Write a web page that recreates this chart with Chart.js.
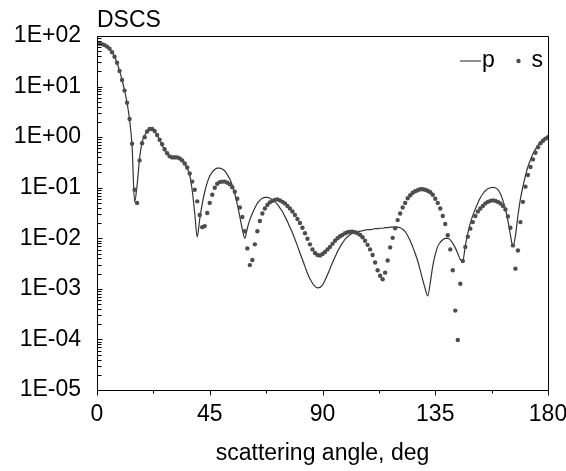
<!DOCTYPE html>
<html>
<head>
<meta charset="utf-8">
<script src="https://cdn.jsdelivr.net/npm/chart.js@4/dist/chart.umd.min.js"></script>
<style>
html,body{margin:0;padding:0;background:#fff;}
#wrap{width:566px;height:471px;}
canvas{display:block;}
</style>
</head>
<body>
<div id="wrap"><canvas id="c" width="566" height="471"></canvas></div>
<script>
// scattering angles (deg), 1-degree grid
const angles = [0,1,2,3,4,5,6,7,8,9,10,11,12,13,14,15,16,17,18,19,20,21,22,23,24,25,26,27,28,29,30,31,32,33,34,35,36,37,38,39,40,41,42,43,44,45,46,47,48,49,50,51,52,53,54,55,56,57,58,59,60,61,62,63,64,65,66,67,68,69,70,71,72,73,74,75,76,77,78,79,80,81,82,83,84,85,86,87,88,89,90,91,92,93,94,95,96,97,98,99,100,101,102,103,104,105,106,107,108,109,110,111,112,113,114,115,116,117,118,119,120,121,122,123,124,125,126,127,128,129,130,131,132,133,134,135,136,137,138,139,140,141,142,143,144,145,146,147,148,149,150,151,152,153,154,155,156,157,158,159,160,161,162,163,164,165,166,167,168,169,170,171,172,173,174,175,176,177,178,179,180];

// series p (solid line)
const pValues = [70.8,70.8,69.2,66.1,61.7,56.2,47.9,38.9,29.5,20.4,13.5,8.32,4.79,2.19,0.661,0.0525,0.112,0.380,0.794,1.07,
1.32,1.48,1.45,1.32,1.10,0.871,0.692,0.550,0.468,0.427,0.417,0.417,0.407,0.380,0.339,0.295,0.240,0.178,0.0891,0.0316,
0.0107,0.0240,0.0479,0.0832,0.126,0.170,0.204,0.229,0.245,0.245,0.234,0.214,0.182,0.148,0.112,0.0759,0.0468,0.0269,0.0151,0.0100,
0.0158,0.0234,0.0309,0.0398,0.0490,0.0562,0.0617,0.0646,0.0646,0.0617,0.0575,0.0525,0.0468,0.0398,0.0339,0.0269,0.0214,0.0166,0.0129,0.00955,
0.00708,0.00513,0.00380,0.00275,0.00204,0.00158,0.00129,0.00112,0.00105,0.00107,0.00120,0.00148,0.00191,0.00251,0.00331,0.00427,0.00550,0.00676,0.00813,0.00955,
0.0107,0.0117,0.0126,0.0132,0.0135,0.0138,0.0141,0.0145,0.0148,0.0148,0.0151,0.0155,0.0155,0.0158,0.0158,0.0162,0.0162,0.0166,0.0166,0.0166,
0.0166,0.0162,0.0151,0.0135,0.0112,0.00891,0.00676,0.00501,0.00355,0.00234,0.00151,0.00100,0.000724,0.00132,0.00282,0.00479,0.00692,0.00832,0.00933,0.0100,
0.0100,0.00933,0.00794,0.00646,0.00501,0.00380,0.00363,0.00708,0.0126,0.0200,0.0282,0.0380,0.0501,0.0631,0.0759,0.0871,0.0955,0.100,0.102,0.100,
0.0912,0.0759,0.0562,0.0380,0.0224,0.0117,0.00692,0.0112,0.0282,0.0603,0.105,0.174,0.263,0.355,0.468,0.575,0.692,0.794,0.891,0.955,1.00];

// series s (dots)
const sValues = [70.8,70.8,69.2,66.1,61.7,56.2,47.9,38.9,29.5,20.4,13.5,8.32,4.79,2.29,0.741,0.0912,0.0501,0.347,0.759,1.00,
1.29,1.45,1.45,1.32,1.10,0.891,0.724,0.575,0.479,0.417,0.398,0.398,0.398,0.380,0.347,0.302,0.251,0.191,0.132,0.0912,
0.0537,0.0288,0.0166,0.0174,0.0316,0.0501,0.0724,0.100,0.120,0.129,0.132,0.132,0.126,0.117,0.102,0.0832,0.0603,0.0407,0.0263,0.0138,
0.00631,0.00295,0.00372,0.00759,0.0138,0.0219,0.0309,0.0389,0.0457,0.0513,0.0550,0.0575,0.0589,0.0562,0.0525,0.0490,0.0437,0.0389,0.0339,0.0288,
0.0240,0.0200,0.0162,0.0126,0.00977,0.00759,0.00603,0.00513,0.00468,0.00457,0.00490,0.00537,0.00603,0.00676,0.00776,0.00891,0.0100,0.0110,0.0117,0.0126,
0.0132,0.0135,0.0135,0.0132,0.0126,0.0117,0.0105,0.00891,0.00741,0.00603,0.00468,0.00331,0.00234,0.00182,0.00155,0.00209,0.00363,0.00661,0.0102,0.0158,
0.0229,0.0309,0.0407,0.0501,0.0617,0.0708,0.0794,0.0851,0.0891,0.0933,0.0933,0.0912,0.0871,0.0813,0.0724,0.0603,0.0501,0.0389,0.0275,0.0191,
0.0115,0.00603,0.00234,0.000372,0.0000977,0.00126,0.00355,0.00676,0.0107,0.0155,0.0209,0.0275,0.0339,0.0389,0.0437,0.0490,0.0525,0.0550,0.0562,0.0550,
0.0525,0.0490,0.0437,0.0372,0.0269,0.0162,0.00724,0.00251,0.00575,0.0209,0.0525,0.105,0.178,0.257,0.363,0.490,0.631,0.759,0.851,0.933,1.00];

const xTickValues = [0,45,90,135,180];
const xTickLabels = ['0','45','90','135','180'];
const yTickValues = [1e-5,1e-4,1e-3,1e-2,1e-1,1,10,100];
const yTickLabels = ['1E-05','1E-04','1E-03','1E-02','1E-01','1E+00','1E+01','1E+02'];
const seriesNames = ['p','s'];
const chartTitle = 'DSCS';
const xAxisTitle = 'scattering angle, deg';

const FONT = '"Liberation Sans", Arial, sans-serif';
const FS = 23;

const pData = angles.map((a,i)=>({x:a,y:pValues[i]}));
const sData = angles.map((a,i)=>({x:a,y:sValues[i]}));

const decor = {
  id:'decor',
  afterDraw(chart){
    const ctx = chart.ctx;
    const ca = chart.chartArea;
    const xs = chart.scales.x, ys = chart.scales.y;
    const L = Math.round(ca.left)+0.5, R = Math.round(ca.right)+0.5;
    const T = Math.round(ca.top)+0.5, B = Math.round(ca.bottom)+0.5;
    ctx.save();
    ctx.strokeStyle = '#000';
    ctx.lineWidth = 1;
    ctx.beginPath();
    ctx.rect(L, T, R-L, B-T);
    ctx.stroke();
    // x ticks (outward)
    ctx.beginPath();
    for (let v = 0; v <= 180.001; v += 22.5) {
      const px = Math.round(xs.getPixelForValue(v))+0.5;
      const len = (Math.abs(v/45 - Math.round(v/45)) < 1e-6) ? 5 : 3;
      ctx.moveTo(px, B); ctx.lineTo(px, B+len);
    }
    // y ticks (inward, log minor)
    for (let e = -5; e <= 2; e++) {
      for (let k = 1; k <= 9; k++) {
        const v = k*Math.pow(10,e);
        if (v > 100*1.0001) break;
        const py = Math.round(ys.getPixelForValue(v))+0.5;
        const len = k===1 ? 5 : 4;
        ctx.moveTo(L, py); ctx.lineTo(L+len, py);
      }
    }
    ctx.stroke();
    // title
    ctx.fillStyle = '#000';
    ctx.font = FS+'px '+FONT;
    ctx.textAlign = 'left';
    ctx.textBaseline = 'alphabetic';
    ctx.fillText(chartTitle, ca.left, 27);
    // x axis title
    ctx.textAlign = 'center';
    ctx.fillText(xAxisTitle, (ca.left+ca.right)/2, 460);
    // legend inside plot
    const ly = ca.top + 25;
    ctx.strokeStyle = '#444';
    ctx.lineWidth = 1.2;
    ctx.beginPath();
    ctx.moveTo(ca.right-88, ly); ctx.lineTo(ca.right-67, ly);
    ctx.stroke();
    ctx.textAlign = 'left';
    ctx.fillText(seriesNames[0], ca.right-66, ly+5.7);
    ctx.fillStyle = '#4d4d4d';
    ctx.beginPath();
    ctx.arc(ca.right-29.5, ly, 2.2, 0, Math.PI*2);
    ctx.fill();
    ctx.fillStyle = '#000';
    ctx.fillText(seriesNames[1], ca.right-16.5, ly+5.7);
    ctx.restore();
  }
};

new Chart(document.getElementById('c'), {
  type:'line',
  data:{
    datasets:[
      {label:seriesNames[0], data:pData, borderColor:'#333333', borderWidth:1.2, pointRadius:0, fill:false, cubicInterpolationMode:'monotone', order:2},
      {label:seriesNames[1], data:sData, showLine:false, pointRadius:2.2, pointHoverRadius:2.2, pointBackgroundColor:'#4d4d4d', pointBorderWidth:0, borderColor:'#4d4d4d', order:1}
    ]
  },
  options:{
    responsive:false,
    maintainAspectRatio:false,
    devicePixelRatio:1,
    animation:false,
    events:[],
    layout:{padding:{left:0,right:18,top:36,bottom:0}},
    plugins:{legend:{display:false}, title:{display:false}, tooltip:{enabled:false}},
    scales:{
      x:{
        type:'linear', min:0, max:180, position:'bottom',
        afterFit(s){ s.height = 81; s.paddingLeft = 0; s.paddingRight = 0; },
        afterBuildTicks(s){ s.ticks = xTickValues.map(v=>({value:v})); },
        grid:{display:false, drawTicks:false},
        border:{display:false},
        ticks:{autoSkip:false, maxRotation:0, padding:11, color:'#000', font:{family:FONT,size:FS},
          callback:(v,i)=>xTickLabels[i]}
      },
      y:{
        type:'logarithmic', min:1e-5, max:100, position:'left',
        afterFit(s){ s.width = 97; s.paddingTop = 0; s.paddingBottom = 0; },
        afterBuildTicks(s){ s.ticks = yTickValues.map(v=>({value:v})); },
        grid:{display:false, drawTicks:false},
        border:{display:false},
        ticks:{autoSkip:false, padding:16, color:'#000', font:{family:FONT,size:FS},
          callback:(v,i)=>yTickLabels[i]}
      }
    }
  },
  plugins:[decor]
});
</script>
</body>
</html>
